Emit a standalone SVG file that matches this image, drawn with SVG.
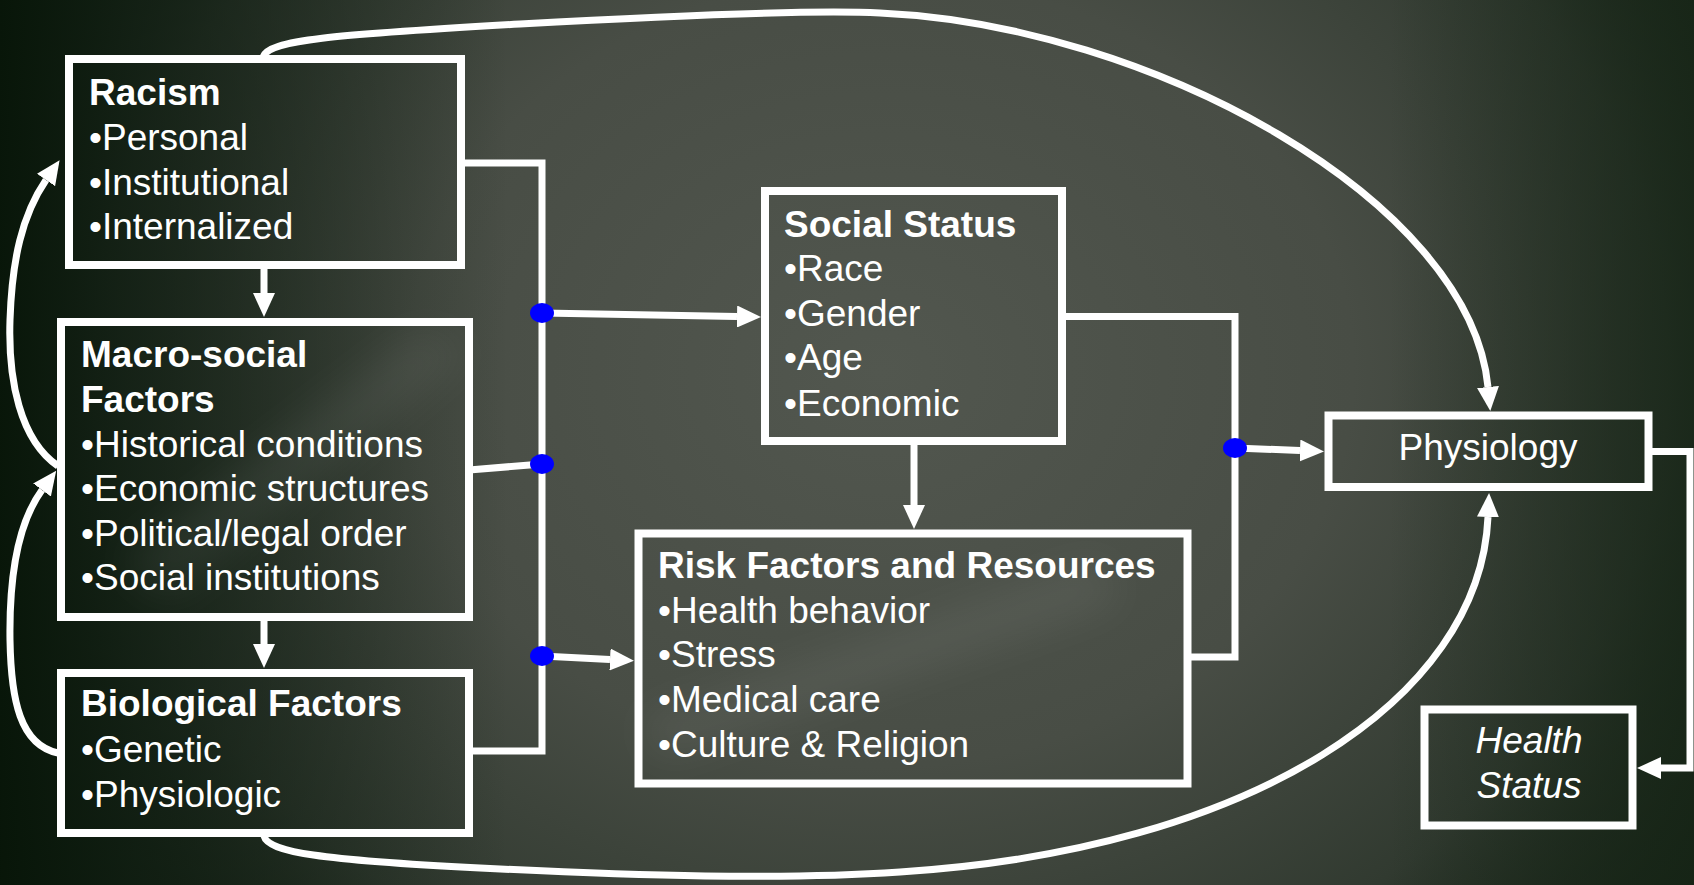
<svg xmlns="http://www.w3.org/2000/svg" width="1694" height="885" viewBox="0 0 1694 885">
<defs>
<radialGradient id="bg" cx="0.52" cy="0.42" r="0.62" gradientTransform="translate(0.52 0.42) scale(1 1.6) translate(-0.52 -0.42)">
<stop offset="0" stop-color="#52574f"/>
<stop offset="0.45" stop-color="#484d45"/>
<stop offset="0.75" stop-color="#313a30"/>
<stop offset="1" stop-color="#15221597"/>
</radialGradient>
<linearGradient id="left" x1="0" y1="0" x2="1" y2="0">
<stop offset="0" stop-color="#071508" stop-opacity="0.95"/>
<stop offset="0.08" stop-color="#0c1a0e" stop-opacity="0.75"/>
<stop offset="0.3" stop-color="#0c1a0e" stop-opacity="0"/>
<stop offset="0.82" stop-color="#152415" stop-opacity="0"/>
<stop offset="1" stop-color="#152415" stop-opacity="0.75"/>
</linearGradient>
<filter id="blur" x="-50%" y="-50%" width="200%" height="200%"><feGaussianBlur stdDeviation="20"/></filter>
<marker id="ah" markerUnits="userSpaceOnUse" markerWidth="24" markerHeight="22" viewBox="0 0 24 22" refX="0" refY="11" orient="auto">
<path d="M0,0 L24,11 L0,22 z" fill="#ffffff"/>
</marker>
<style>
.box{fill:none;stroke:#ffffff;stroke-width:8}
.ln{fill:none;stroke:#ffffff;stroke-width:7}
.arr{fill:none;stroke:#ffffff;stroke-width:7;marker-end:url(#ah)}
.dot{fill:#0000ff}
text{font-family:"Liberation Sans",Arial,sans-serif;font-size:37px;fill:#ffffff}
.h{font-weight:bold}
.c{text-anchor:middle}
.i{font-style:italic}
</style>
</defs>
<rect x="0" y="0" width="1694" height="885" fill="#1a2619"/>
<rect x="0" y="0" width="1694" height="885" fill="url(#bg)"/>
<rect x="0" y="0" width="1694" height="885" fill="url(#left)"/>
<g opacity="0.06" filter="url(#blur)" fill="#ffffff">
<polygon points="120,560 420,330 470,350 170,600"/>
<polygon points="640,720 1100,560 1120,600 660,760"/>
</g>

<g id="connectors">
<path class="ln" d="M461 163 H542 V751 H469"/>
<path class="ln" d="M469 470 L542 464"/>
<path class="ln" d="M1062 316.5 H1235 V657 H1190"/>
<path class="arr" d="M542 313 L737 316.5"/>
<path class="arr" d="M542 656 L610 659.5"/>
<path class="arr" d="M1235 448 L1300 450.5"/>
<path class="arr" d="M914 445 V505"/>
<path class="arr" d="M1652 451.5 H1690 V768 H1661"/>
<path class="arr" d="M264 269 V293"/>
<path class="arr" d="M264 621 V644"/>
<path class="arr" d="M263 57 C268 40 330 35 520 24 C700 14 820 10 880 13 C1150 25 1470 200 1488 387"/>
<path class="arr" d="M264 836 C268 852 320 860 480 868 C640 876 780 880 900 872 C1250 850 1480 700 1488 517"/>
<path class="arr" d="M58 466 C20 440 8 380 10 320 C12 260 22 215 46 180"/>
<path class="arr" d="M58 753 C20 745 11 700 10 640 C9 570 20 520 42 490"/>
<ellipse class="dot" cx="542" cy="313" rx="12" ry="10"/>
<ellipse class="dot" cx="542" cy="464" rx="12" ry="10"/>
<ellipse class="dot" cx="542" cy="656" rx="12" ry="10"/>
<ellipse class="dot" cx="1235" cy="448" rx="12" ry="10"/>
</g>

<g id="racism">
<rect class="box" x="69" y="59" width="392" height="206"/>
<text class="h" x="89" y="105">Racism</text>
<text x="89" y="150">•Personal</text>
<text x="89" y="195">•Institutional</text>
<text x="89" y="239">•Internalized</text>
</g>

<g id="macro">
<rect class="box" x="61" y="322" width="408" height="295"/>
<text class="h" x="81" y="367">Macro-social</text>
<text class="h" x="81" y="412">Factors</text>
<text x="81" y="457">•Historical conditions</text>
<text x="81" y="501">•Economic structures</text>
<text x="81" y="546">•Political/legal order</text>
<text x="81" y="590">•Social institutions</text>
</g>

<g id="biological">
<rect class="box" x="61" y="673" width="408" height="160"/>
<text class="h" x="81" y="716">Biological Factors</text>
<text x="81" y="762">•Genetic</text>
<text x="81" y="807">•Physiologic</text>
</g>

<g id="social-status">
<rect class="box" x="765" y="191" width="297" height="250"/>
<text class="h" x="784" y="237">Social Status</text>
<text x="784" y="281">•Race</text>
<text x="784" y="326">•Gender</text>
<text x="784" y="370">•Age</text>
<text x="784" y="416">•Economic</text>
</g>

<g id="risk-factors">
<rect class="box" x="638.5" y="533.5" width="549" height="250"/>
<text class="h" x="658" y="578">Risk Factors and Resources</text>
<text x="658" y="623">•Health behavior</text>
<text x="658" y="667">•Stress</text>
<text x="658" y="712">•Medical care</text>
<text x="658" y="757">•Culture &amp; Religion</text>
</g>

<g id="physiology">
<rect class="box" x="1328.5" y="415.5" width="320" height="71.5"/>
<text class="c" x="1488" y="460">Physiology</text>
</g>

<g id="health-status">
<rect class="box" x="1424.5" y="709.5" width="208" height="116"/>
<text class="c i" x="1529" y="753">Health</text>
<text class="c i" x="1529" y="798">Status</text>
</g>
</svg>
